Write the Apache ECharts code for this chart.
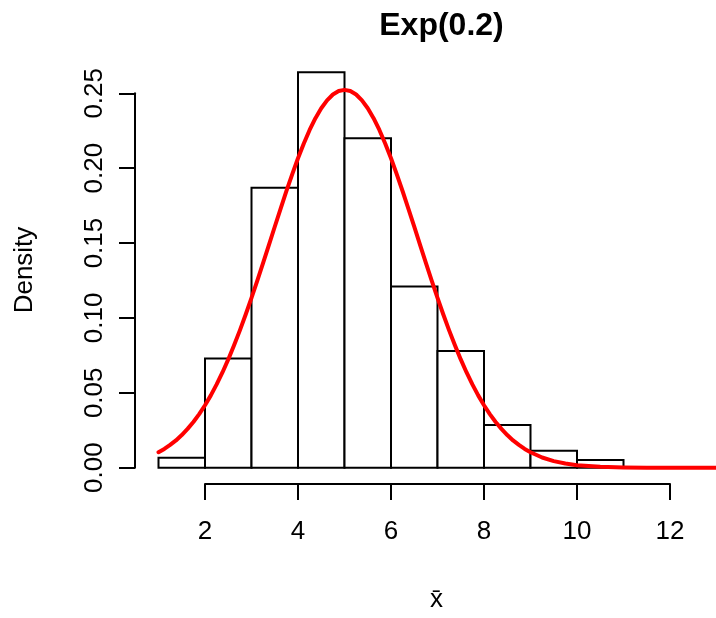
<!DOCTYPE html>
<html>
<head>
<meta charset="utf-8">
<script src="https://cdn.jsdelivr.net/npm/echarts@6/dist/echarts.min.js"></script>
<style>html,body{margin:0;padding:0;background:#fff}#c{width:716px;height:618px}</style>
</head>
<body>
<div id="c"></div>
<script>
// Histogram bins: [left edge, right edge]
const binLeft = [1, 2, 3, 4, 5, 6, 7, 8, 9, 10];
const binRight = [2, 3, 4, 5, 6, 7, 8, 9, 10, 11];
const density = [0.0067, 0.073, 0.187, 0.264, 0.220, 0.121, 0.078, 0.0285, 0.0114, 0.0052];
// Red density curve
const curveX = [1, 1.125, 1.25, 1.375, 1.5, 1.625, 1.75, 1.875, 2, 2.125, 2.25, 2.375, 2.5, 2.625, 2.75, 2.875,
  3, 3.125, 3.25, 3.375, 3.5, 3.625, 3.75, 3.875, 4, 4.125, 4.25, 4.375, 4.5, 4.625, 4.75, 4.875,
  5, 5.125, 5.25, 5.375, 5.5, 5.625, 5.75, 5.875, 6, 6.125, 6.25, 6.375, 6.5, 6.625, 6.75, 6.875,
  7, 7.125, 7.25, 7.375, 7.5, 7.625, 7.75, 7.875, 8, 8.125, 8.25, 8.375, 8.5, 8.625, 8.75, 8.875,
  9, 9.25, 9.5, 9.75, 10, 10.5, 11, 11.5, 12, 12.5, 13];
const curveY = [0.0103, 0.0125, 0.0152, 0.0182, 0.0218, 0.0259, 0.0305, 0.0358, 0.0417, 0.0483, 0.0556, 0.0636,
  0.0723, 0.0817, 0.0917, 0.1023, 0.1134, 0.1249, 0.1368, 0.1488, 0.1609, 0.1729, 0.1846, 0.1959,
  0.2066, 0.2165, 0.2255, 0.2334, 0.2400, 0.2453, 0.2492, 0.2515,
  0.2523, 0.2515, 0.2492, 0.2453, 0.2400, 0.2334, 0.2255, 0.2165, 0.2066, 0.1959, 0.1846, 0.1729,
  0.1609, 0.1488, 0.1368, 0.1249, 0.1134, 0.1023, 0.0917, 0.0817, 0.0723, 0.0636, 0.0556, 0.0483,
  0.0417, 0.0358, 0.0305, 0.0259, 0.0218, 0.0182, 0.0152, 0.0125,
  0.0103, 0.0068, 0.0044, 0.0028, 0.0017, 0.0006, 0.0002, 0.00005, 0.00001, 0, 0];
const xTicks = [2, 4, 6, 8, 10, 12];
const yTicks = ['0.00', '0.05', '0.10', '0.15', '0.20', '0.25'];
const titleText = 'Exp(0.2)';
const xLabel = 'x\u0304';
const yLabel = 'Density';

const FONT = "'Liberation Sans', Arial, Helvetica, sans-serif";
const chart = echarts.init(document.getElementById('c'), null, {renderer: 'canvas'});
const histData = binLeft.map((l, i) => [l, binRight[i], density[i]]);

chart.setOption({
  animation: false,
  backgroundColor: '#fff',
  title: {
    text: titleText, left: 436.5, top: 5, textAlign: 'center',
    textStyle: {fontFamily: FONT, fontWeight: 'bold', fontSize: 32, color: '#000'}
  },
  graphic: [
    {type: 'text', x: 436.5, y: 600, style: {text: xLabel, font: '26px ' + FONT, fill: '#000', align: 'center', verticalAlign: 'middle'}},
    {type: 'text', x: 25, y: 270, rotation: Math.PI / 2, style: {text: yLabel, font: '26px ' + FONT, fill: '#000', align: 'center', verticalAlign: 'middle'}}
  ],
  grid: {left: 205, right: 46, top: 93.3, bottom: 150.3, containLabel: false},
  xAxis: {
    type: 'value', min: 2, max: 12, interval: 2, offset: 16.3,
    axisLine: {show: true, onZero: false, lineStyle: {color: '#000', width: 2}},
    axisTick: {show: true, length: 16, lineStyle: {color: '#000', width: 2}},
    axisLabel: {show: true, fontSize: 26, fontFamily: FONT, color: '#000', margin: 35,
      formatter: v => xTicks.includes(v) ? String(v) : ''},
    splitLine: {show: false}
  },
  yAxis: {
    type: 'value', min: 0, max: 0.25, interval: 0.05, offset: 70,
    axisLine: {show: true, lineStyle: {color: '#000', width: 2}},
    axisTick: {show: true, length: 16, lineStyle: {color: '#000', width: 2}},
    axisLabel: {show: true, fontSize: 26, fontFamily: FONT, color: '#000', rotate: 90, margin: 27,
      formatter: v => yTicks[Math.round(v / 0.05)]},
    splitLine: {show: false}
  },
  series: [
    {
      type: 'custom', clip: false, z: 2,
      data: histData,
      encode: {x: [0, 1], y: 2},
      renderItem: (params, api) => {
        const p0 = api.coord([api.value(0), api.value(2)]);
        const p1 = api.coord([api.value(1), 0]);
        return {type: 'rect', shape: {x: p0[0], y: p0[1], width: p1[0] - p0[0], height: p1[1] - p0[1]},
          style: {fill: '#fff', stroke: '#000', lineWidth: 2}};
      }
    },
    {
      type: 'custom', clip: false, z: 5,
      data: [0],
      renderItem: (params, api) => {
        const pts = curveX.map((x, i) => api.coord([x, curveY[i]]));
        return {type: 'polyline', shape: {points: pts},
          style: {fill: null, stroke: '#ff0000', lineWidth: 4, lineJoin: 'round', lineCap: 'round'}};
      }
    }
  ]
});
</script>
</body>
</html>
